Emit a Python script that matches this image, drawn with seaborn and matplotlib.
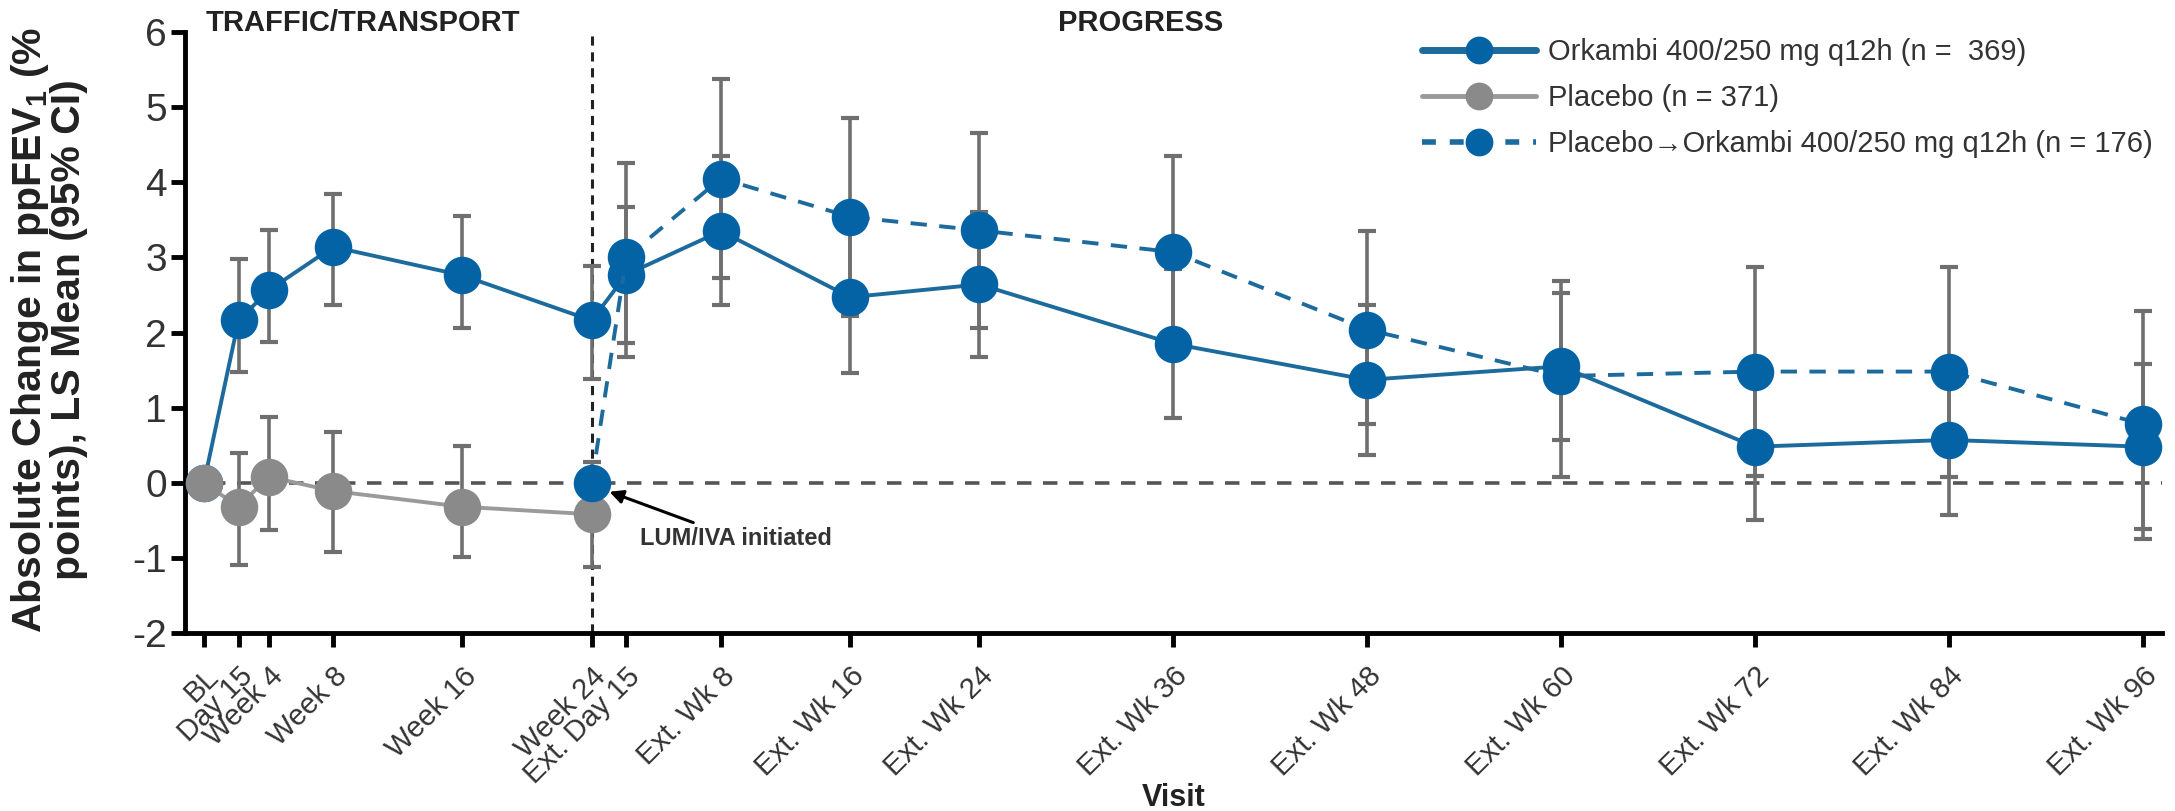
import numpy as np
import pandas as pd
import matplotlib
matplotlib.use("Agg")
import matplotlib.pyplot as plt
from matplotlib import font_manager
from matplotlib.lines import Line2D
import seaborn as sns

# ---------------- data ----------------
visit_labels = ["BL", "Day 15", "Week 4", "Week 8", "Week 16", "Week 24",
                "Ext. Day 15", "Ext. Wk 8", "Ext. Wk 16", "Ext. Wk 24",
                "Ext. Wk 36", "Ext. Wk 48", "Ext. Wk 60", "Ext. Wk 72",
                "Ext. Wk 84", "Ext. Wk 96"]
visit_weeks = [0, 2.14, 4, 8, 16, 24, 26.14, 32, 40, 48, 60, 72, 84, 96, 108, 120]

ork_weeks = visit_weeks
ork_mean = [0, 2.16, 2.56, 3.14, 2.76, 2.16, 2.77, 3.35, 2.47, 2.64, 1.85, 1.37, 1.55, 0.48, 0.57, 0.48]
ork_lo = [np.nan, 1.47, 1.88, 2.37, 2.06, 1.38, 1.86, 2.36, 1.46, 1.67, 0.86, 0.37, 0.57, -0.49, -0.43, -0.62]
ork_hi = [np.nan, 2.98, 3.36, 3.85, 3.55, 2.88, 3.67, 4.35, 3.48, 3.60, 2.85, 2.36, 2.53, 1.45, 1.57, 1.58]

pbo_weeks = [0, 2.14, 4, 8, 16, 24]
pbo_mean = [0, -0.32, 0.08, -0.11, -0.32, -0.42]
pbo_lo = [np.nan, -1.10, -0.63, -0.92, -0.99, -1.12]
pbo_hi = [np.nan, 0.40, 0.88, 0.68, 0.49, 0.28]

p2o_weeks = [24, 26.14, 32, 40, 48, 60, 72, 84, 96, 108, 120]
p2o_mean = [0, 3.00, 4.05, 3.54, 3.36, 3.07, 2.04, 1.42, 1.48, 1.48, 0.78]
p2o_lo = [np.nan, 1.67, 2.73, 2.22, 2.06, 1.79, 0.78, 0.08, 0.09, 0.08, -0.75]
p2o_hi = [np.nan, 4.26, 5.37, 4.86, 4.65, 4.35, 3.35, 2.68, 2.87, 2.87, 2.28]

series_names = ["Orkambi 400/250 mg q12h (n =  369)",
                "Placebo (n = 371)",
                "Placebo\u2192Orkambi 400/250 mg q12h (n = 176)"]

# ---------------- style ----------------
sns.set_style("ticks")
names = {f.name for f in font_manager.fontManager.ttflist}
narrow = "Liberation Sans Narrow" if "Liberation Sans Narrow" in names else "Liberation Sans"
plt.rcParams["font.family"] = [narrow, "DejaVu Sans"]
plt.rcParams["axes.unicode_minus"] = False
plt.rcParams["mathtext.fontset"] = "custom"
plt.rcParams["mathtext.rm"] = narrow
plt.rcParams["mathtext.bf"] = narrow + ":bold"

BLUE = "#0463a5"
BLUE_LINE = "#1d6a9c"
GRAY = "#8a8a8a"
ERR = "#6f6f6f"

fig = plt.figure(figsize=(21.75, 8.11), dpi=100)
ax = fig.add_axes([0.085, 0.2195, 0.909, 0.741])

# reference lines
ax.axhline(0, color="#555555", lw=2.6, dashes=(4, 3.2), zorder=1)
ax.axvline(24, color="#222222", lw=2.2, dashes=(3, 2.2), zorder=1)

def draw(weeks, mean, lo, hi, color, lcolor, dashed=False):
    df = pd.DataFrame({"week": weeks, "value": mean, "lo": lo, "hi": hi})
    e = df.dropna()
    ax.errorbar(e["week"], e["value"], yerr=[e["value"] - e["lo"], e["hi"] - e["value"]],
                fmt="none", ecolor=ERR, elinewidth=2.6, capsize=6.5, capthick=3, zorder=2)
    n0 = len(ax.lines)
    sns.lineplot(data=df, x="week", y="value", ax=ax, color=lcolor, lw=2.8,
                 marker="o", markersize=27, markeredgewidth=0,
                 estimator=None, sort=False, legend=False, zorder=3)
    ln = ax.lines[n0]
    ln.set_markerfacecolor(color)
    ln.set_markeredgecolor(color)
    if dashed:
        ln.set_dashes((4.2, 3.2))

draw(ork_weeks, ork_mean, ork_lo, ork_hi, BLUE, BLUE_LINE)
draw(pbo_weeks, pbo_mean, pbo_lo, pbo_hi, GRAY, "#9a9a9a")
draw(p2o_weeks, p2o_mean, p2o_lo, p2o_hi, BLUE, BLUE_LINE, dashed=True)

# axes
ax.set_xlim(-1.18, 121.2)
ax.set_ylim(-2, 6)
ax.set_yticks(range(-2, 7))
ax.set_xticks(visit_weeks)
ax.set_xticklabels(visit_labels, rotation=45, ha="right", rotation_mode="anchor")
ax.tick_params(axis="both", direction="out", length=10, width=3.5, color="black")
ax.tick_params(axis="x", labelsize=21, pad=11, labelcolor="#333333")
ax.tick_params(axis="y", labelsize=28, pad=3, labelcolor="#333333")
for s in ["top", "right"]:
    ax.spines[s].set_visible(False)
for s in ["left", "bottom"]:
    ax.spines[s].set_linewidth(3.5)
    ax.spines[s].set_color("black")

ax.set_ylabel("Absolute Change in ppFEV$_\\mathbf{1}$ (%\npoints), LS Mean (95% CI)",
              fontsize=29.5, fontweight="bold", color="#222222", linespacing=0.98)
ax.yaxis.set_label_coords(-0.049, 0.505)
ax.set_xlabel("Visit", fontsize=22, fontweight="bold", color="#222222")
ax.xaxis.set_label_coords(0.5, -0.25)

# section headers
ax.text(9.85, 6.12, "TRAFFIC/TRANSPORT", ha="center", va="center", fontsize=21,
        fontweight="bold", color="#222222", clip_on=False)
ax.text(58.0, 6.12, "PROGRESS", ha="center", va="center", fontsize=21,
        fontweight="bold", color="#222222", clip_on=False)

ax.annotate("LUM/IVA initiated", xy=(25.1, -0.12), xytext=(27.0, -0.74),
            fontsize=17, fontweight="bold", color="#333333", va="center", ha="left",
            arrowprops=dict(arrowstyle="-|>", color="black", lw=2.2, mutation_scale=20,
                            shrinkA=2, shrinkB=0))

# legend
handles = [
    Line2D([], [], color=BLUE_LINE, lw=5, marker="o", markersize=20,
           markerfacecolor=BLUE, markeredgewidth=0),
    Line2D([], [], color="#9a9a9a", lw=3.5, marker="o", markersize=20,
           markerfacecolor=GRAY, markeredgewidth=0),
    Line2D([], [], color=BLUE_LINE, lw=4, marker="o", markersize=20, dashes=(2.5, 2.5),
           markerfacecolor=BLUE, markeredgewidth=0),
]
leg = fig.legend(handles, series_names, loc="upper left", bbox_to_anchor=(0.654, 0.953),
                 frameon=False, fontsize=21, handlelength=3.9, handletextpad=0.4,
                 labelspacing=0.62, borderpad=0, borderaxespad=0)
for t in leg.get_texts():
    t.set_color("#333333")

fig.savefig("out.png", dpi=100)
